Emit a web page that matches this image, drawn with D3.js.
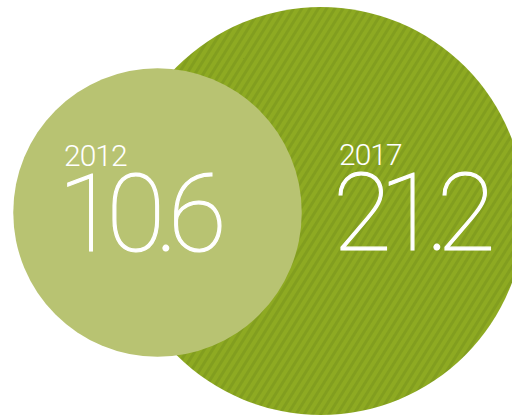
<!DOCTYPE html>
<html>
<head>
<meta charset="utf-8">
<script src="https://cdn.jsdelivr.net/npm/d3@7"></script>
<style>
  html, body { margin: 0; padding: 0; background: #fff; }
  svg { display: block; }
  text { font-family: Roboto, "Helvetica Neue", Arial, sans-serif; fill: #fff; }
</style>
</head>
<body>
<div id="chart"></div>
<script>
const years = ["2012", "2017"];
const values = [10.6, 21.2];
const valueLabels = ["10.6", "21.2"];

const width = 512, height = 416;

const svg = d3.select("#chart").append("svg")
    .attr("width", width)
    .attr("height", height);

// striped fill for the bigger circle
const defs = svg.append("defs");
const pat = defs.append("pattern")
    .attr("id", "stripes")
    .attr("patternUnits", "userSpaceOnUse")
    .attr("width", 7)
    .attr("height", 7)
    .attr("patternTransform", "rotate(32)");
pat.append("rect").attr("width", 7).attr("height", 7).attr("fill", "#8eaa22");
pat.append("rect").attr("width", 3).attr("height", 7).attr("fill", "#829e1f");

const r = d3.scaleSqrt().domain([0, d3.max(values)]).range([0, 204]);

// layout: big circle behind, small one in front
const layout = [
    {cx: 157.5, cy: 212.5, fill: "#b8c372", lx: 64, ly: 166, vx: 58, vy: 251, ls: -10},
    {cx: 321, cy: 211, fill: "url(#stripes)", lx: 339, ly: 165, vx: 333, vy: 250, ls: -12}
];

const items = years.map((y, i) => ({year: y, value: values[i], label: valueLabels[i], ...layout[i]}));

const g = svg.selectAll("g.bubble")
    .data([items[1], items[0]])
    .enter().append("g")
    .attr("class", "bubble");

g.append("circle")
    .attr("cx", d => d.cx)
    .attr("cy", d => d.cy)
    .attr("r", d => r(d.value))
    .attr("fill", d => d.fill);

// year and value in one text block
const t = g.append("text");

t.append("tspan")
    .attr("x", d => d.lx)
    .attr("y", d => d.ly)
    .attr("font-size", 30)
    .attr("font-weight", 300)
    .attr("letter-spacing", -1)
    .text(d => d.year);

t.append("tspan")
    .attr("x", d => d.vx)
    .attr("y", d => d.vy)
    .attr("font-size", 107)
    .attr("font-weight", 100)
    .attr("letter-spacing", d => d.ls)
    .attr("stroke", "#fff")
    .attr("stroke-width", 1.1)
    .text(d => d.label);
</script>
</body>
</html>
